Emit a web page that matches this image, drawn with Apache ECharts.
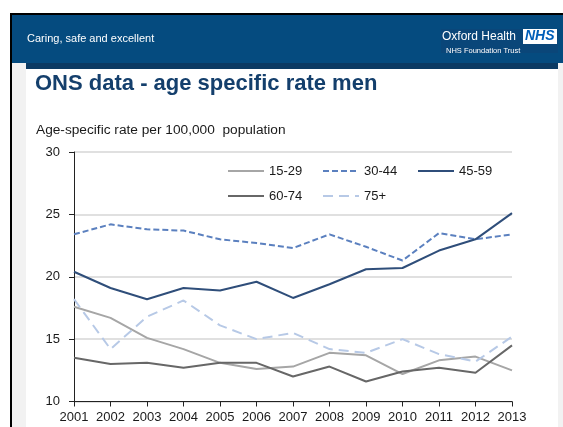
<!DOCTYPE html>
<html>
<head>
<meta charset="utf-8">
<script src="https://cdn.jsdelivr.net/npm/echarts@6/dist/echarts.min.js"></script>
<style>
  html, body { margin: 0; padding: 0; background: #ffffff; }
  #chart { width: 563px; height: 427px; }
</style>
</head>
<body>
<div id="chart"></div>
<script>
// Age-specific suicide rate per 100,000 population, men, by age band
const years = ['2001', '2002', '2003', '2004', '2005', '2006', '2007', '2008', '2009', '2010', '2011', '2012', '2013'];
const age15to29 = [17.6, 16.7, 15.1, 14.2, 13.1, 12.6, 12.8, 13.9, 13.7, 12.2, 13.3, 13.6, 12.5];
const age30to44 = [23.4, 24.2, 23.8, 23.7, 23.0, 22.7, 22.3, 23.4, 22.4, 21.3, 23.5, 23.0, 23.4];
const age45to59 = [20.4, 19.1, 18.2, 19.1, 18.9, 19.6, 18.3, 19.4, 20.6, 20.7, 22.1, 23.0, 25.1];
const age60to74 = [13.5, 13.0, 13.1, 12.7, 13.1, 13.1, 12.0, 12.8, 11.6, 12.4, 12.7, 12.3, 14.5];
const age75plus = [18.2, 14.2, 16.8, 18.1, 16.1, 15.0, 15.5, 14.2, 13.9, 15.0, 13.8, 13.2, 15.2];
const yTicks = { min: 10, max: 30, interval: 5 };

const FONT = 'Arial, "Liberation Sans", sans-serif';

const chart = echarts.init(document.getElementById('chart'), null, { renderer: 'canvas' });

function legendItem(name, left, top) {
  return {
    data: [name],
    left: left,
    top: top,
    padding: 0,
    itemWidth: 36,
    itemHeight: 14,
    selectedMode: false,
    // only the line sample is shown, no marker
    itemStyle: { opacity: 0 },
    textStyle: { fontFamily: FONT, fontSize: 13, color: '#1a1a1a', lineHeight: 14 }
  };
}

function lineSeries(name, data, color, type) {
  return {
    name: name,
    type: 'line',
    data: data,
    symbol: 'none',
    smooth: false,
    lineStyle: { color: color, width: 2, type: type },
    itemStyle: { color: color },
    emphasis: { disabled: true }
  };
}

chart.setOption({
  backgroundColor: '#ffffff',
  animation: false,
  title: {
    text: 'ONS data - age specific rate men',
    left: 35,
    top: 73,
    padding: 0,
    textStyle: { fontFamily: FONT, fontSize: 22, fontWeight: 'bold', color: '#143f6c' }
  },
  graphic: [
    // slide frame and header band
    { type: 'rect', z: -10, shape: { x: 12, y: 15, width: 551, height: 412 }, style: { fill: '#f2f2f2' } },
    { type: 'rect', z: -9, shape: { x: 26, y: 63, width: 532, height: 364 }, style: { fill: '#ffffff' } },
    { type: 'rect', z: -8, shape: { x: 10, y: 13, width: 553, height: 2 }, style: { fill: '#000000' } },
    { type: 'rect', z: -8, shape: { x: 10, y: 13, width: 2, height: 414 }, style: { fill: '#000000' } },
    { type: 'rect', z: -8, shape: { x: 12, y: 15, width: 551, height: 48 }, style: { fill: '#054b7f' } },
    { type: 'rect', z: -7, shape: { x: 26, y: 63, width: 532, height: 6 }, style: { fill: '#0b3a63' } },
    {
      type: 'text', z: 5, left: 27, top: 33,
      style: { text: 'Caring, safe and excellent', fill: '#ffffff', font: '11px ' + FONT }
    },
    // trust logo
    { type: 'rect', z: -6, shape: { x: 441, y: 29, width: 117, height: 24 }, style: { fill: '#0a4679' } },
    {
      type: 'text', z: 5, left: 442, top: 31,
      style: { text: 'Oxford Health', fill: '#ffffff', font: '12px ' + FONT }
    },
    {
      type: 'text', z: 5, left: 446, top: 47,
      style: { text: 'NHS Foundation Trust', fill: '#ffffff', font: '7.5px ' + FONT }
    },
    { type: 'rect', z: 4, shape: { x: 523, y: 29, width: 34, height: 15 }, style: { fill: '#ffffff' } },
    {
      type: 'text', z: 5, left: 525, top: 29,
      style: { text: 'NHS', fill: '#005eb8', font: 'italic bold 14px ' + FONT }
    },
    // value axis title
    {
      type: 'text', z: 5, left: 36, top: 123,
      style: { text: 'Age-specific rate per 100,000  population', fill: '#1a1a1a', font: '13.7px ' + FONT }
    }
  ],
  legend: [
    legendItem('15-29', 227, 164),
    legendItem('30-44', 322, 164),
    legendItem('45-59', 417, 164),
    legendItem('60-74', 227, 189),
    legendItem('75+', 322, 189)
  ],
  grid: {
    left: 74,
    top: 152,
    right: 51,
    bottom: 25.5,
    containLabel: false,
    outerBoundsMode: 'none'
  },
  xAxis: {
    type: 'category',
    data: years,
    boundaryGap: false,
    axisLine: { show: true, lineStyle: { color: '#222222', width: 1 } },
    axisTick: { show: true, alignWithLabel: true, interval: 0, length: 5, lineStyle: { color: '#222222' } },
    axisLabel: { interval: 0, margin: 9, fontFamily: FONT, fontSize: 13, color: '#1a1a1a' },
    splitLine: { show: false }
  },
  yAxis: {
    type: 'value',
    min: yTicks.min,
    max: yTicks.max,
    interval: yTicks.interval,
    axisLine: { show: true, lineStyle: { color: '#222222', width: 1 } },
    axisTick: { show: true, length: 5, lineStyle: { color: '#222222' } },
    axisLabel: { margin: 14, fontFamily: FONT, fontSize: 13, color: '#1a1a1a' },
    splitLine: { show: true, lineStyle: { color: '#d6d6d6', width: 1.5 } }
  },
  series: [
    lineSeries('15-29', age15to29, '#a6a6a6', 'solid'),
    lineSeries('30-44', age30to44, '#5b80bf', [6, 3]),
    lineSeries('45-59', age45to59, '#2f4e7a', 'solid'),
    lineSeries('60-74', age60to74, '#676767', 'solid'),
    lineSeries('75+', age75plus, '#b7c9e6', [10, 6])
  ]
});
</script>
</body>
</html>
